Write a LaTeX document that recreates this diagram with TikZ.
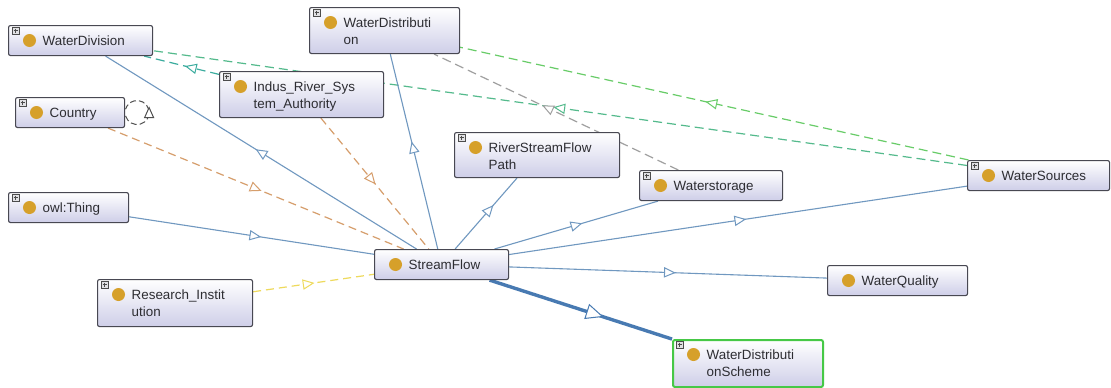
\documentclass[tikz,border=0pt]{standalone}
\usepackage{fontspec}
\setmainfont{Liberation Sans}
\usetikzlibrary{decorations.markings}

\definecolor{nodebd}{RGB}{72,72,82}
\definecolor{lav}{RGB}{206,206,232}
\definecolor{dotcol}{RGB}{214,160,42}
\definecolor{textcol}{RGB}{45,45,50}
\definecolor{plusfill}{RGB}{225,225,228}
\definecolor{edgeblue}{RGB}{112,152,192}
\definecolor{edgeblued}{RGB}{72,122,178}
\definecolor{edgeorange}{RGB}{214,158,108}
\definecolor{edgeyellow}{RGB}{238,218,92}
\definecolor{edgeteal}{RGB}{58,172,158}
\definecolor{edgetgreen}{RGB}{84,186,140}
\definecolor{edgegreen}{RGB}{104,204,104}
\definecolor{edgegray}{RGB}{160,160,160}
\definecolor{loopcol}{RGB}{80,80,80}
\definecolor{selgreen}{RGB}{70,200,70}

\pgfdeclarelayer{paper}
\pgfdeclarelayer{edges}
\pgfsetlayers{paper,edges,main}

\tikzset{
  clsbox/.style={draw=nodebd, line width=1.1pt, rounded corners=2pt,
    top color=white, bottom color=lav, inner sep=0pt, anchor=north west},
  clslabel/.style={anchor=base west, inner sep=0pt, text=textcol,
    font=\fontsize{13.4}{17}\selectfont},
  plusbd/.style={draw=black!70, line width=0.5pt},
  isa/.style={draw=edgeblue, line width=1.1pt},
  isathick/.style={draw=edgeblued, line width=3.4pt},
  relorange/.style={draw=edgeorange, line width=1.2pt, dash pattern=on 8pt off 5pt},
  relyellow/.style={draw=edgeyellow, line width=1.2pt, dash pattern=on 8pt off 5pt},
  relteal/.style={draw=edgeteal, line width=1.2pt, dash pattern=on 9pt off 5pt},
  reltgreen/.style={draw=edgetgreen, line width=1.2pt, dash pattern=on 9pt off 5pt},
  relgreen/.style={draw=edgegreen, line width=1.2pt, dash pattern=on 9pt off 5pt},
  relgray/.style={draw=edgegray, line width=1.2pt, dash pattern=on 9pt off 5pt},
  loopedge/.style={draw=loopcol, line width=1pt, dash pattern=on 6pt off 3pt},
  tipblue/.style={draw=edgeblue},
  tipblued/.style={draw=edgeblued},
  tiporange/.style={draw=edgeorange},
  tipyellow/.style={draw=edgeyellow},
  tipteal/.style={draw=edgeteal},
  tiptgreen/.style={draw=edgetgreen},
  tipgreen/.style={draw=edgegreen},
  tipgray/.style={draw=edgegray},
  tiploop/.style={draw=loopcol},
}

% class decoration: expand marker, gold class dot and the label
\newcommand\clsdeco[3]{%
  \ifnum#3=1
    \draw[plusbd, fill=plusfill] ([shift={(4,2)}]#1.north west) rectangle ++(7,7);
    \draw[plusbd] ([shift={(5.5,5.5)}]#1.north west) -- ++(4,0)
                  ([shift={(7.5,3.5)}]#1.north west) -- ++(0,4);
  \fi
  \fill[dotcol] ([shift={(21.5,15.5)}]#1.north west) circle (6.5);
  \node[clslabel] (#1-l) at ([shift={(34.5,20.3)}]#1.north west) {#2};
}
\newcommand\twol[2]{\vtop{\baselineskip=17pt\hbox{#1}\hbox{#2}}}

% open triangle halfway between the two class centres
\newcommand\midtip[4]{%
  \path[decorate, decoration={markings, mark=at position 0.5 with
    {\draw[#1, solid, fill=white, line width=1pt, scale=#4]
      (5,0) -- (-5,4.5) -- (-5,-4.5) -- cycle;}}] (#2.center) -- (#3.center);
}

\begin{document}
\begin{tikzpicture}[x=1pt, y=-1pt]
\begin{pgfonlayer}{paper}
  \fill[white] (0,0) rectangle (1111,388);
\end{pgfonlayer}
\useasboundingbox (0,0) rectangle (1111,388);

% classes
\node[clsbox, minimum width=144pt, minimum height=30pt] (wdiv) at (8,25) {};
\node[clsbox, minimum width=109pt, minimum height=30pt] (country) at (15,97) {};
\node[clsbox, minimum width=164pt, minimum height=46pt] (irsa) at (219,71) {};
\node[clsbox, minimum width=150pt, minimum height=46pt] (wdist) at (309,7) {};
\node[clsbox, minimum width=165pt, minimum height=45pt] (rsfp) at (454,132) {};
\node[clsbox, minimum width=143pt, minimum height=30pt] (wst) at (639,170) {};
\node[clsbox, minimum width=142pt, minimum height=30pt] (wsrc) at (967,160) {};
\node[clsbox, minimum width=140pt, minimum height=30pt] (wq) at (827,265) {};
\node[clsbox, minimum width=120pt, minimum height=30pt] (thing) at (8,192) {};
\node[clsbox, minimum width=134pt, minimum height=30pt] (sf) at (374,249) {};
\node[clsbox, minimum width=155pt, minimum height=47pt] (ri) at (97,279) {};
\node[clsbox, draw=selgreen, line width=2pt, minimum width=150pt, minimum height=47pt] (wds) at (672,339) {};

\clsdeco{wdiv}{WaterDivision}{1}
\clsdeco{country}{Country}{1}
\clsdeco{irsa}{\twol{Indus\_River\_Sys}{tem\_Authority}}{1}
\clsdeco{wdist}{\twol{WaterDistributi}{on}}{1}
\clsdeco{rsfp}{\twol{RiverStreamFlow}{Path}}{1}
\clsdeco{wst}{Waterstorage}{1}
\clsdeco{wsrc}{WaterSources}{1}
\clsdeco{wq}{WaterQuality}{0}
\clsdeco{thing}{owl:Thing}{1}
\clsdeco{sf}{StreamFlow}{0}
\clsdeco{ri}{\twol{Research\_Instit}{ution}}{1}
\clsdeco{wds}{\twol{WaterDistributi}{onScheme}}{1}

\begin{pgfonlayer}{edges}
  % object property arcs
  \draw[reltgreen] (wsrc) -- (wdiv);   \midtip{tiptgreen}{wsrc}{wdiv}{1}
  \draw[relteal] (irsa) -- (wdiv);     \midtip{tipteal}{irsa}{wdiv}{1}
  \draw[relgreen] (wsrc) -- (wdist);   \midtip{tipgreen}{wsrc}{wdist}{1}
  \draw[relgray] (wst) -- (wdist);     \midtip{tipgray}{wst}{wdist}{1}
  \draw[relorange] (country) -- (sf);  \midtip{tiporange}{country}{sf}{1}
  \draw[relorange] (irsa) -- (sf);     \midtip{tiporange}{irsa}{sf}{1}
  \draw[relyellow] (ri) -- (sf);       \midtip{tipyellow}{ri}{sf}{1}
  % subclass arcs
  \draw[isa] (sf) -- (wdiv);   \midtip{tipblue}{sf}{wdiv}{1}
  \draw[isa] (sf) -- (wdist);  \midtip{tipblue}{sf}{wdist}{1}
  \draw[isa] (thing) -- (sf);  \midtip{tipblue}{thing}{sf}{1}
  \draw[isa] (sf) -- (rsfp);   \midtip{tipblue}{sf}{rsfp}{1}
  \draw[isa] (sf) -- (wst);    \midtip{tipblue}{sf}{wst}{1}
  \draw[isa] (sf) -- (wsrc);   \midtip{tipblue}{sf}{wsrc}{1}
  \draw[isa] (sf) -- (wq);     \midtip{tipblue}{sf}{wq}{1}
  \draw[isathick] (sf) -- (wds); \midtip{tipblued}{sf}{wds}{1.6}
  % self relation on Country
  \coordinate (cloop) at ([shift={(12,0)}]country.east);
  \draw[loopedge, postaction={decorate, decoration={markings, mark=at position 0.5 with
      {\draw[tiploop, solid, fill=white, line width=1pt] (5,0) -- (-5,4.5) -- (-5,-4.5) -- cycle;}}}]
    ([shift={(164:12)}]cloop) arc (164:-164:12);
\end{pgfonlayer}
\end{tikzpicture}
\end{document}
